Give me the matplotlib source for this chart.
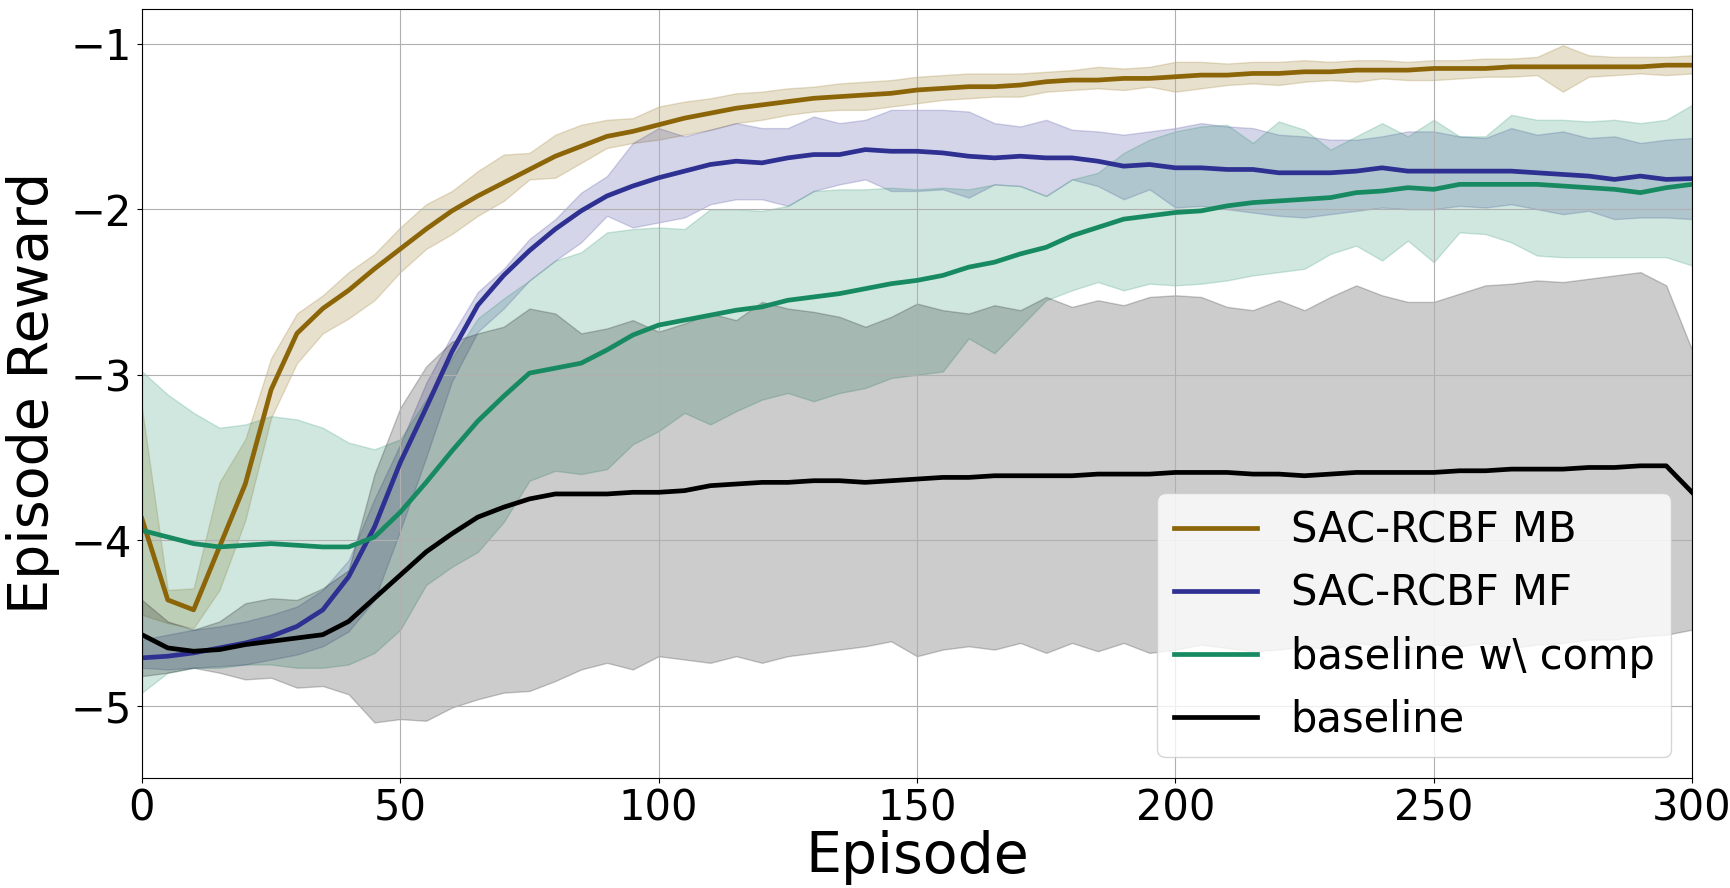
import numpy as np
import matplotlib
matplotlib.use("Agg")
import matplotlib.pyplot as plt

episodes = list(range(0, 301, 5))

mb_mean = [-3.87, -4.36, -4.42, -4.04, -3.66, -3.09, -2.75, -2.60, -2.49, -2.36,
           -2.24, -2.12, -2.01, -1.92, -1.84, -1.76, -1.68, -1.62, -1.56, -1.53,
           -1.49, -1.45, -1.42, -1.39, -1.37, -1.35, -1.33, -1.32, -1.31, -1.30,
           -1.28, -1.27, -1.26, -1.26, -1.25, -1.23, -1.22, -1.22, -1.21, -1.21,
           -1.20, -1.19, -1.19, -1.18, -1.18, -1.17, -1.17, -1.16, -1.16, -1.16,
           -1.15, -1.15, -1.15, -1.14, -1.14, -1.14, -1.14, -1.14, -1.14, -1.13, -1.13]
mb_upper = [-3.20, -4.30, -4.29, -3.65, -3.39, -2.90, -2.63, -2.52, -2.38, -2.27,
            -2.11, -1.97, -1.89, -1.77, -1.67, -1.66, -1.55, -1.49, -1.46, -1.45,
            -1.38, -1.35, -1.33, -1.30, -1.29, -1.27, -1.26, -1.24, -1.23, -1.22,
            -1.20, -1.19, -1.18, -1.18, -1.18, -1.17, -1.16, -1.14, -1.15, -1.14,
            -1.11, -1.11, -1.12, -1.11, -1.11, -1.10, -1.11, -1.10, -1.10, -1.11,
            -1.10, -1.10, -1.09, -1.09, -1.08, -1.01, -1.07, -1.08, -1.08, -1.08, -1.07]
mb_lower = [-4.45, -4.50, -4.53, -4.30, -3.88, -3.26, -2.93, -2.75, -2.66, -2.55,
            -2.38, -2.24, -2.15, -2.04, -1.95, -1.82, -1.81, -1.72, -1.63, -1.60,
            -1.58, -1.55, -1.52, -1.48, -1.46, -1.43, -1.41, -1.40, -1.40, -1.38,
            -1.36, -1.34, -1.33, -1.32, -1.32, -1.29, -1.28, -1.27, -1.28, -1.26,
            -1.29, -1.27, -1.25, -1.24, -1.25, -1.23, -1.22, -1.23, -1.21, -1.22,
            -1.22, -1.21, -1.20, -1.20, -1.19, -1.29, -1.20, -1.19, -1.18, -1.19, -1.18]

mf_mean = [-4.71, -4.70, -4.68, -4.65, -4.62, -4.58, -4.52, -4.42, -4.22, -3.92,
           -3.53, -3.20, -2.86, -2.58, -2.40, -2.25, -2.12, -2.01, -1.92, -1.86,
           -1.81, -1.77, -1.73, -1.71, -1.72, -1.69, -1.67, -1.67, -1.64, -1.65,
           -1.65, -1.66, -1.68, -1.69, -1.68, -1.69, -1.69, -1.71, -1.74, -1.73,
           -1.75, -1.75, -1.76, -1.76, -1.78, -1.78, -1.78, -1.77, -1.75, -1.77,
           -1.77, -1.77, -1.77, -1.77, -1.78, -1.79, -1.80, -1.82, -1.80, -1.82, -1.815]
mf_upper = [-4.60, -4.57, -4.54, -4.52, -4.49, -4.45, -4.40, -4.30, -4.12, -3.75,
            -3.42, -3.05, -2.76, -2.50, -2.36, -2.18, -2.06, -1.90, -1.80, -1.60,
            -1.51, -1.56, -1.52, -1.48, -1.51, -1.51, -1.44, -1.48, -1.46, -1.40,
            -1.40, -1.40, -1.41, -1.48, -1.50, -1.46, -1.52, -1.53, -1.55, -1.53,
            -1.51, -1.48, -1.50, -1.51, -1.55, -1.56, -1.58, -1.58, -1.56, -1.53,
            -1.53, -1.56, -1.57, -1.51, -1.55, -1.53, -1.57, -1.56, -1.60, -1.58, -1.57]
mf_lower = [-4.77, -4.78, -4.77, -4.76, -4.75, -4.72, -4.69, -4.64, -4.55, -4.36,
            -3.94, -3.50, -3.04, -2.74, -2.60, -2.43, -2.31, -2.20, -2.04, -2.11,
            -2.08, -2.05, -1.97, -1.94, -1.94, -1.98, -1.89, -1.85, -1.82, -1.89,
            -1.89, -1.88, -1.93, -1.85, -1.86, -1.92, -1.82, -1.86, -1.94, -1.88,
            -1.99, -1.98, -2.00, -2.02, -2.04, -2.05, -2.03, -2.01, -1.99, -2.00,
            -2.00, -1.98, -1.99, -1.97, -2.00, -2.03, -2.01, -2.06, -2.05, -2.05, -2.06]

comp_mean = [-3.94, -3.98, -4.02, -4.04, -4.03, -4.02, -4.03, -4.04, -4.04, -3.98,
             -3.83, -3.65, -3.46, -3.28, -3.13, -2.99, -2.96, -2.93, -2.85, -2.76,
             -2.70, -2.67, -2.64, -2.61, -2.59, -2.55, -2.53, -2.51, -2.48, -2.45,
             -2.43, -2.40, -2.35, -2.32, -2.27, -2.23, -2.16, -2.11, -2.06, -2.04,
             -2.02, -2.01, -1.98, -1.96, -1.95, -1.94, -1.93, -1.90, -1.89, -1.87,
             -1.88, -1.85, -1.85, -1.85, -1.85, -1.86, -1.87, -1.88, -1.90, -1.87, -1.85]
comp_upper = [-2.98, -3.12, -3.23, -3.32, -3.30, -3.25, -3.27, -3.32, -3.41, -3.45,
              -3.39, -3.15, -2.90, -2.66, -2.54, -2.43, -2.31, -2.26, -2.14, -2.12,
              -2.11, -2.12, -2.00, -2.00, -2.01, -1.98, -1.89, -1.88, -1.88, -1.87,
              -1.88, -1.87, -1.88, -1.85, -1.86, -1.92, -1.82, -1.78, -1.66, -1.58,
              -1.53, -1.50, -1.49, -1.60, -1.47, -1.52, -1.64, -1.56, -1.48, -1.56,
              -1.46, -1.56, -1.56, -1.43, -1.46, -1.46, -1.47, -1.46, -1.48, -1.46, -1.37]
comp_lower = [-4.92, -4.80, -4.77, -4.77, -4.75, -4.75, -4.77, -4.77, -4.75, -4.68,
              -4.54, -4.27, -4.16, -4.07, -3.89, -3.64, -3.58, -3.60, -3.57, -3.42,
              -3.34, -3.23, -3.30, -3.22, -3.15, -3.11, -3.16, -3.11, -3.08, -3.02,
              -3.00, -2.98, -2.78, -2.87, -2.71, -2.55, -2.49, -2.44, -2.49, -2.45,
              -2.46, -2.45, -2.43, -2.40, -2.38, -2.36, -2.27, -2.22, -2.31, -2.19,
              -2.32, -2.14, -2.15, -2.20, -2.28, -2.29, -2.29, -2.29, -2.29, -2.29, -2.34]

base_mean = [-4.57, -4.65, -4.67, -4.66, -4.63, -4.61, -4.59, -4.57, -4.49, -4.35,
             -4.21, -4.07, -3.96, -3.86, -3.80, -3.75, -3.72, -3.72, -3.72, -3.71,
             -3.71, -3.70, -3.67, -3.66, -3.65, -3.65, -3.64, -3.64, -3.65, -3.64,
             -3.63, -3.62, -3.62, -3.61, -3.61, -3.61, -3.61, -3.60, -3.60, -3.60,
             -3.59, -3.59, -3.59, -3.60, -3.60, -3.61, -3.60, -3.59, -3.59, -3.59,
             -3.59, -3.58, -3.58, -3.57, -3.57, -3.57, -3.56, -3.56, -3.55, -3.55, -3.71]
base_upper = [-4.36, -4.49, -4.54, -4.49, -4.38, -4.35, -4.36, -4.29, -4.18, -3.60,
              -3.20, -2.95, -2.80, -2.75, -2.71, -2.60, -2.63, -2.75, -2.72, -2.67,
              -2.74, -2.69, -2.63, -2.67, -2.56, -2.60, -2.62, -2.65, -2.71, -2.65,
              -2.57, -2.61, -2.63, -2.58, -2.61, -2.53, -2.59, -2.55, -2.58, -2.53,
              -2.52, -2.53, -2.59, -2.61, -2.55, -2.61, -2.53, -2.46, -2.52, -2.56,
              -2.56, -2.51, -2.46, -2.45, -2.43, -2.44, -2.42, -2.40, -2.38, -2.46, -2.85]
base_lower = [-4.82, -4.80, -4.77, -4.80, -4.84, -4.83, -4.89, -4.88, -4.93, -5.10,
              -5.08, -5.09, -5.01, -4.96, -4.92, -4.91, -4.85, -4.78, -4.74, -4.78,
              -4.70, -4.72, -4.74, -4.70, -4.74, -4.70, -4.68, -4.66, -4.64, -4.61,
              -4.70, -4.66, -4.64, -4.66, -4.62, -4.68, -4.62, -4.67, -4.62, -4.68,
              -4.66, -4.63, -4.65, -4.67, -4.66, -4.64, -4.66, -4.62, -4.64, -4.66,
              -4.63, -4.64, -4.62, -4.65, -4.63, -4.62, -4.60, -4.60, -4.58, -4.57, -4.54]

labels = ["SAC-RCBF MB", "SAC-RCBF MF", "baseline w\\ comp", "baseline"]
colors = ["#8b6508", "#2e3192", "#178a62", "#000000"]

series = [
    (mb_mean, mb_lower, mb_upper),
    (mf_mean, mf_lower, mf_upper),
    (comp_mean, comp_lower, comp_upper),
    (base_mean, base_lower, base_upper),
]

fig = plt.figure(figsize=(17.31, 8.88), dpi=100)
ax = fig.add_axes([0.082, 0.124, 0.8955, 0.866])

x = np.array(episodes)
for (m, lo, hi), c, lab in zip(series, colors, labels):
    ax.fill_between(x, lo, hi, color=c, alpha=0.2)
    ax.plot(x, m, color=c, lw=3.4, label=lab)

ax.set_xlim(0, 300)
ax.set_ylim(-5.435, -0.79)
ax.set_xticks([0, 50, 100, 150, 200, 250, 300])
ax.set_yticks([-5, -4, -3, -2, -1])
ax.tick_params(labelsize=30)
ax.grid(True)
ax.set_xlabel("Episode", fontsize=41, labelpad=0)
ax.set_ylabel("Episode Reward", fontsize=40, labelpad=8)
ax.legend(loc="lower right", fontsize=30)

fig.savefig("out.png", dpi=100)
